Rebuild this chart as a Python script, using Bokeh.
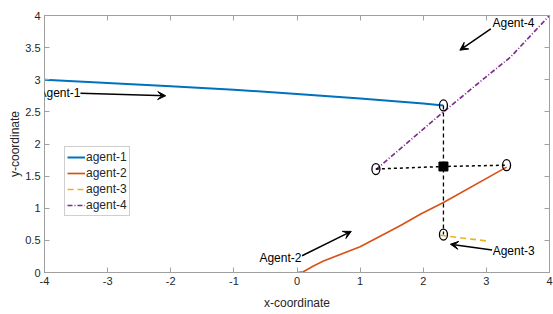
from bokeh.plotting import figure
from bokeh.models import (LinearAxis, FixedTicker, Label, Arrow, VeeHead, Legend, LegendItem)
from bokeh.embed import file_html
from bokeh.resources import INLINE

# ---- data ----
agent1_x = [-4.0, -3.0, -2.0, -1.0, 0.0, 1.0, 2.0, 2.32]
agent1_y = [3.0, 2.95, 2.90, 2.845, 2.78, 2.71, 2.63, 2.60]
agent2_x = [0.0, 0.1, 0.26, 0.42, 1.0, 1.64, 1.96, 2.32, 3.32]
agent2_y = [0.0, 0.01, 0.10, 0.18, 0.40, 0.73, 0.91, 1.09, 1.64]
agent3_x = [2.27, 3.0]
agent3_y = [0.58, 0.49]
agent4_x = [1.25, 2.32, 3.0, 3.38, 4.0]
agent4_y = [1.60, 2.50, 3.05, 3.35, 4.0]

circle_x = [2.32, 1.25, 3.32, 2.32]
circle_y = [2.60, 1.61, 1.67, 0.59]
center_x = [2.32]
center_y = [1.65]
hline_x = [1.25, 2.32, 3.32]
hline_y = [1.61, 1.65, 1.67]
vline_x = [2.32, 2.32]
vline_y = [2.60, 0.59]

x_ticks = [-4, -3, -2, -1, 0, 1, 2, 3, 4]
x_tick_labels = ["-4", "-3", "-2", "-1", "0", "1", "2", "3", "4"]
y_ticks = [0, 0.5, 1, 1.5, 2, 2.5, 3, 3.5, 4]
y_tick_labels = ["0", "0.5", "1", "1.5", "2", "2.5", "3", "3.5", "4"]

ann_text = ["Agent-1", "Agent-2", "Agent-3", "Agent-4"]
ann_tx = [-3.43, 0.07, 3.10, 3.43]
ann_ty = [2.79, 0.23, 0.34, 3.88]
ann_align = ["right", "right", "left", "center"]
arr_x0 = [-3.43, 0.08, 3.09, 3.07]
arr_y0 = [2.79, 0.26, 0.35, 3.79]
arr_x1 = [-2.08, 0.86, 2.43, 2.58]
arr_y1 = [2.75, 0.64, 0.44, 3.46]

FONT = "Liberation Sans"
AX = "#a0a0a0"
TXT = "#262626"

p = figure(width=553, height=314, x_range=(-4, 4), y_range=(0, 4),
           output_backend="svg", toolbar_location=None,
           x_axis_label="x-coordinate", y_axis_label="y-coordinate",
           min_border_left=44, min_border_right=4, min_border_top=15, min_border_bottom=42)
p.xgrid.visible = False
p.ygrid.visible = False
p.outline_line_color = AX
p.background_fill_color = "white"
p.border_fill_color = "white"

def style_axis(ax, ticks, labels, show_labels=True, label_standoff=5):
    ax.ticker = FixedTicker(ticks=ticks)
    if show_labels:
        ax.major_label_overrides = {t: l for t, l in zip(ticks, labels)}
    else:
        ax.major_label_overrides = {t: "" for t in ticks}
    ax.axis_line_color = AX
    ax.major_tick_line_color = AX
    ax.major_tick_in = 5
    ax.major_tick_out = 0
    ax.minor_tick_line_color = None
    ax.major_label_text_font = FONT
    ax.major_label_text_font_size = "11px" if show_labels else "1px"
    ax.major_label_text_color = TXT
    ax.major_label_standoff = 4 if show_labels else 0
    ax.axis_label_text_font = FONT
    ax.axis_label_text_font_size = "12px"
    ax.axis_label_text_font_style = "normal"
    ax.axis_label_text_color = TXT
    ax.axis_label_standoff = label_standoff

style_axis(p.xaxis[0], x_ticks, x_tick_labels, label_standoff=8)
style_axis(p.yaxis[0], y_ticks, y_tick_labels, label_standoff=0)
top = LinearAxis()
right = LinearAxis()
style_axis(top, x_ticks, x_tick_labels, show_labels=False)
style_axis(right, y_ticks, y_tick_labels, show_labels=False)
p.add_layout(top, "above")
p.add_layout(right, "right")

r1 = p.line(agent1_x, agent1_y, line_color="#0072BD", line_width=2)
r2 = p.line(agent2_x, agent2_y, line_color="#D95319", line_width=1.7)
r3 = p.line(agent3_x, agent3_y, line_color="#EDB120", line_width=1.7, line_dash="6 4")
r4 = p.line(agent4_x, agent4_y, line_color="#7E2F8E", line_width=1.7, line_dash="5 2 1 2")

p.line(hline_x, hline_y, line_color="black", line_width=1.5, line_dash="3 3")
p.line(vline_x, vline_y, line_color="black", line_width=1.3, line_dash="4 3")
p.ellipse(circle_x, circle_y, width=8, height=11, width_units="screen", height_units="screen",
          fill_color=None, line_color="black", line_width=1.3)
p.scatter(center_x, center_y, marker="square", size=9, fill_color="black", line_color="black")

for t, tx, ty, al in zip(ann_text, ann_tx, ann_ty, ann_align):
    p.add_layout(Label(x=tx, y=ty, text=t, text_align=al, text_baseline="middle",
                       text_font=FONT, text_font_size="12px", text_color="black"))
for x0, y0, x1, y1 in zip(arr_x0, arr_y0, arr_x1, arr_y1):
    p.add_layout(Arrow(x_start=x0, y_start=y0, x_end=x1, y_end=y1, line_width=1.5,
                       line_color="black",
                       end=VeeHead(size=8, fill_color="black", line_color="black", line_width=1)))

p.add_layout(Label(x=0, y=4, y_offset=7, text="Trajectories of all agents", text_align="center",
                   text_baseline="middle", text_font=FONT, text_font_size="9px",
                   text_font_style="bold", text_color="black"))

legend = Legend(items=[LegendItem(label="agent-1", renderers=[r1]),
                       LegendItem(label="agent-2", renderers=[r2]),
                       LegendItem(label="agent-3", renderers=[r3]),
                       LegendItem(label="agent-4", renderers=[r4])],
                location=(20, 56), orientation="vertical")
legend.label_text_font = FONT
legend.label_text_font_size = "12px"
legend.label_text_color = TXT
legend.label_height = 16
legend.glyph_height = 16
legend.glyph_width = 18
legend.label_standoff = 1
legend.spacing = 0
legend.padding = 2
legend.margin = 0
legend.border_line_color = AX
legend.border_line_width = 1
legend.background_fill_color = "white"
p.add_layout(legend, "center")

open("out.html", "w").write(file_html(p, INLINE))
